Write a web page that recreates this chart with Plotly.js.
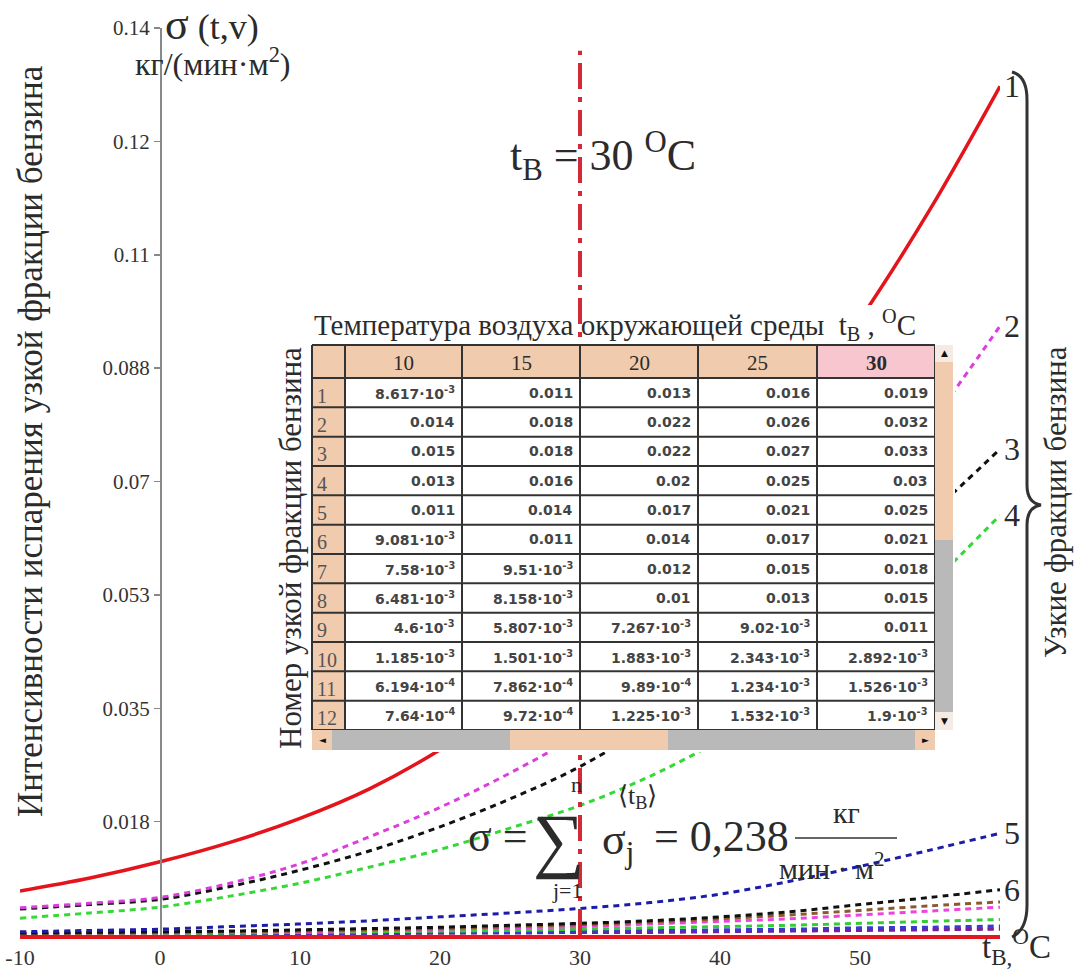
<!DOCTYPE html>
<html>
<head>
<meta charset="utf-8">
<script src="https://cdn.plot.ly/plotly-3.0.1.min.js"></script>
<style>html,body{margin:0;padding:0;background:#fff;}#chart{width:1075px;height:973px;}</style>
</head>
<body>
<div id="chart"></div>
<script>
// ---------- data ----------
const tempAxis = [-10, -5, 0, 5, 10, 15, 20, 25, 30, 35, 40, 45, 50, 55, 60];

const curve1  = [0.0068, 0.0088, 0.0113, 0.0143, 0.0180, 0.0226, 0.0286, 0.0360, 0.0450, 0.0550, 0.0670, 0.0800, 0.0950, 0.1120, 0.1310];
const curve2  = [0.0042, 0.0049, 0.0058, 0.0080, 0.0110, 0.0152, 0.0197, 0.0250, 0.0310, 0.0380, 0.0460, 0.0550, 0.0660, 0.0790, 0.0940];
const curve3  = [0.0040, 0.0047, 0.0055, 0.0075, 0.0100, 0.0130, 0.0167, 0.0210, 0.0260, 0.0325, 0.0400, 0.0480, 0.0560, 0.0650, 0.0750];
const curve4  = [0.0026, 0.0034, 0.0043, 0.0060, 0.0080, 0.0105, 0.0132, 0.0165, 0.0200, 0.0245, 0.0300, 0.0360, 0.0440, 0.0540, 0.0648];
const curve5  = [0.0005, 0.0007, 0.0009, 0.0013, 0.0017, 0.0022, 0.0028, 0.0034, 0.0041, 0.0050, 0.0063, 0.0083, 0.0106, 0.0131, 0.0157];
const curve6  = [0.0003, 0.0004, 0.0005, 0.0006, 0.0008, 0.0010, 0.0012, 0.0015, 0.0018, 0.0022, 0.0028, 0.0036, 0.0047, 0.0058, 0.0070];
const curve7  = [0.0002, 0.0003, 0.0004, 0.0005, 0.0006, 0.0008, 0.0010, 0.0013, 0.0016, 0.0020, 0.0025, 0.0031, 0.0038, 0.0045, 0.0051];
const curve8  = [0.0002, 0.0003, 0.0003, 0.0004, 0.0005, 0.0007, 0.0009, 0.0011, 0.0013, 0.0017, 0.0021, 0.0025, 0.0031, 0.0037, 0.0043];
const curve9  = [0.0001, 0.0002, 0.0002, 0.0003, 0.0004, 0.0005, 0.0006, 0.0007, 0.0009, 0.0011, 0.0013, 0.0015, 0.0018, 0.0021, 0.0024];
const curve10 = [0.0001, 0.0001, 0.0002, 0.0002, 0.0003, 0.0003, 0.0004, 0.0005, 0.0006, 0.0007, 0.0008, 0.0009, 0.0011, 0.0012, 0.0014];
const curve11 = [0.0001, 0.0001, 0.0001, 0.0001, 0.0002, 0.0002, 0.0003, 0.0003, 0.0004, 0.0004, 0.0005, 0.0006, 0.0007, 0.0008, 0.0009];
const curve12 = [0.0001, 0.0001, 0.0001, 0.0002, 0.0002, 0.0003, 0.0003, 0.0004, 0.0005, 0.0005, 0.0006, 0.0007, 0.0008, 0.0009, 0.0010];

const curveLabels = ['1', '2', '3', '4', '5', '6'];
const selectedTemp = 30;

const xTickVals = [-10, 0, 10, 20, 30, 40, 50];
const xTickText = ['-10', '0', '10', '20', '30', '40', '50'];
const yTickVals = [0.0175, 0.035, 0.0525, 0.07, 0.0875, 0.105, 0.1225, 0.14];
const yTickText = ['0.018', '0.035', '0.053', '0.07', '0.088', '0.11', '0.12', '0.14'];

// table of narrow-fraction evaporation rates
const tableTemps = ['10', '15', '20', '25', '30'];
const tableRows  = ['1','2','3','4','5','6','7','8','9','10','11','12'];
const tCol10 = [8.617e-3, 0.014, 0.015, 0.013, 0.011, 9.081e-3, 7.58e-3, 6.481e-3, 4.6e-3, 1.185e-3, 6.194e-4, 7.64e-4];
const tCol15 = [0.011, 0.018, 0.018, 0.016, 0.014, 0.011, 9.51e-3, 8.158e-3, 5.807e-3, 1.501e-3, 7.862e-4, 9.72e-4];
const tCol20 = [0.013, 0.022, 0.022, 0.02, 0.017, 0.014, 0.012, 0.01, 7.267e-3, 1.883e-3, 9.89e-4, 1.225e-3];
const tCol25 = [0.016, 0.026, 0.027, 0.025, 0.021, 0.017, 0.015, 0.013, 9.02e-3, 2.343e-3, 1.234e-3, 1.532e-3];
const tCol30 = [0.019, 0.032, 0.033, 0.03, 0.025, 0.021, 0.018, 0.015, 0.011, 2.892e-3, 1.526e-3, 1.9e-3];
const sigmaTotal = '0,238';

// ---------- helpers ----------
const SERIF = '"Liberation Serif", "Times New Roman", serif';
const SANS = '"DejaVu Sans", Verdana, sans-serif';
const TXT = '#2b2b2b';
const M = {l: 20, r: 75, t: 28, b: 38};
const W = 1075, H = 973;
const PW = W - M.l - M.r, PH = H - M.t - M.b;
const P = x => (x - M.l) / PW;          // pixel -> paper x
const Q = y => (H - M.b - y) / PH;      // pixel -> paper y

function fmt(v) {
  if (v >= 0.01) return String(v);
  const e = Math.floor(Math.log10(v));
  const m = parseFloat((v / Math.pow(10, e)).toPrecision(4));
  return m + '·10<sup>' + e + '</sup>';
}

const curves = [curve1, curve2, curve3, curve4, curve5, curve6, curve7, curve8, curve9, curve10, curve11, curve12];
const colors = ['#e3141c', '#dd3ddd', '#111111', '#35d935', '#1c1ca8', '#111111', '#8b5a2b', '#ee44dd', '#33cc33', '#3a3ad0', '#7a1f9a', '#b02a2a'];

const traces = curves.map((c, i) => ({
  type: 'scatter', mode: 'lines', x: tempAxis, y: c,
  line: i === 0 ? {color: colors[i], width: 3.5, shape: 'spline', smoothing: 1}
                : {color: colors[i], width: 3, dash: '6px,5px', shape: 'spline', smoothing: 1},
  hoverinfo: 'skip'
})).reverse();

function ann(x, y, text, size, opts) {
  return Object.assign({xref: 'paper', yref: 'paper', x: P(x), y: Q(y), text: text, showarrow: false,
    xanchor: 'left', yanchor: 'middle', font: {family: SERIF, size: size, color: TXT}}, opts || {});
}
function rect(x0, y0, x1, y1, color) {
  return {type: 'rect', xref: 'paper', yref: 'paper', x0: P(x0), x1: P(x1), y0: Q(y1), y1: Q(y0),
    fillcolor: color, line: {width: 0}, layer: 'above'};
}
function hline(x0, x1, y, color, w) {
  return {type: 'line', xref: 'paper', yref: 'paper', x0: P(x0), x1: P(x1), y0: Q(y), y1: Q(y),
    layer: 'above', line: {color: color, width: w}};
}
function vline(x, y0, y1, color, w) {
  return {type: 'line', xref: 'paper', yref: 'paper', x0: P(x), x1: P(x), y0: Q(y0), y1: Q(y1),
    layer: 'above', line: {color: color, width: w}};
}

const annotations = [
  ann(163, 24, '<span style="font-size:44px">σ</span> (t,v)', 36),
  ann(133, 62, 'кг/(мин·м<sup>2</sup>)', 32),
  ann(508, 156, 't<sub>В</sub> = 30 <sup>O</sup>C', 44),
  ann(980, 946, 't<sub>В,</sub><sup>O</sup>C', 33),
  ann(312, 325, 'Температура воздуха окружающей среды  t<sub>В</sub> , <sup>O</sup>C', 29),
  ann(290, 548, 'Номер узкой фракции бензина', 31, {xanchor: 'center', textangle: -90}),
  ann(30, 441, 'Интенсивности испарения узкой фракции бензина', 35, {xanchor: 'center', textangle: -90}),
  ann(1055, 502, 'Узкие фракции бензина', 31, {xanchor: 'center', textangle: -90}),
  // formula
  ann(466, 836, 'σ =', 44),
  ann(531, 840, '∑', 72),
  ann(576, 784, 'n', 22, {xanchor: 'center'}),
  ann(567, 890, 'j=1', 22, {xanchor: 'center'}),
  ann(600, 842, 'σ<sub>j</sub>', 44),
  ann(616, 797, '⟨t<sub>В</sub>⟩', 26),
  ann(652, 836, '= ' + sigmaTotal, 44),
  ann(846, 812, 'кг', 30, {xanchor: 'center'}),
  ann(832, 866, 'мин · м<sup>2</sup>', 30, {xanchor: 'center'}),
  // scrollbar arrows
  ann(944, 353, '▲', 9, {xanchor: 'center', font: {size: 9, color: '#111', family: SANS}}),
  ann(944, 721, '▼', 9, {xanchor: 'center', font: {size: 9, color: '#111', family: SANS}}),
  ann(322, 740, '◄', 9, {xanchor: 'center', font: {size: 9, color: '#111', family: SANS}}),
  ann(925, 740, '►', 9, {xanchor: 'center', font: {size: 9, color: '#111', family: SANS}})
];

// curve number labels at the right ends of the curves
curveLabels.forEach((lab, i) => {
  annotations.push({xref: 'x', yref: 'y', x: tempAxis[tempAxis.length - 1], y: curves[i][curves[i].length - 1],
    text: lab, showarrow: false, xanchor: 'left', yanchor: 'middle', xshift: 2,
    font: {family: SERIF, size: 32, color: TXT}});
});

function pt(x, y) { return P(x).toFixed(5) + ',' + Q(y).toFixed(5); }
const bracePath = 'M' + pt(1012, 72) + ' Q' + pt(1027, 76) + ' ' + pt(1027, 100) +
  ' L' + pt(1027, 485) + ' Q' + pt(1027, 503) + ' ' + pt(1041, 505) +
  ' Q' + pt(1027, 507) + ' ' + pt(1027, 525) + ' L' + pt(1027, 905) +
  ' Q' + pt(1027, 930) + ' ' + pt(1012, 937);

const TAN = '#f0cbad', PINK = '#f8c6cf', GRID = '#333333';
const shapes = [
  rect(272, 305, 955, 752, '#ffffff'),
  {type: 'line', xref: 'x', yref: 'y', x0: selectedTemp, x1: selectedTemp, y0: 0, y1: 0.1365, layer: 'above',
   line: {color: '#d42a35', width: 4, dash: '26px,8px,5px,8px'}}
];

// ---------- table (drawn with shapes + annotations) ----------
const colEdges = [312, 345, 462, 580, 698, 817, 935];
const headTop = 345, headBot = 378, rowH = (730 - 378) / tableRows.length;
const rowEdge = k => headBot + k * rowH;
const tableCols = [tCol10, tCol15, tCol20, tCol25, tCol30];

// fills
shapes.push(rect(colEdges[0], headTop, colEdges[6], rowEdge(tableRows.length), '#ffffff'));
shapes.push(rect(colEdges[0], headTop, colEdges[6], headBot, TAN));
shapes.push(rect(colEdges[0], headBot, colEdges[1], rowEdge(tableRows.length), TAN));
tableTemps.forEach((t, j) => {
  if (t === String(selectedTemp)) shapes.push(rect(colEdges[j + 1], headTop, colEdges[j + 2], headBot, PINK));
});
// grid
for (let k = 0; k <= tableRows.length; k++) shapes.push(hline(colEdges[0], colEdges[6], rowEdge(k), GRID, 2));
shapes.push(hline(colEdges[0], colEdges[6], headTop, GRID, 2));
colEdges.forEach(x => shapes.push(vline(x, headTop, rowEdge(tableRows.length), GRID, 2)));

// header texts
tableTemps.forEach((t, j) => {
  const sel = t === String(selectedTemp);
  annotations.push(ann((colEdges[j + 1] + colEdges[j + 2]) / 2, (headTop + headBot) / 2 + 1,
    sel ? '<b>' + t + '</b>' : t, 21, {xanchor: 'center'}));
});
// row numbers and values
tableRows.forEach((r, k) => {
  const yc = (rowEdge(k) + rowEdge(k + 1)) / 2;
  annotations.push(ann(colEdges[0] + 3, yc + 3, r, 20, {font: {family: SERIF, size: 20, color: '#555'}}));
  tableCols.forEach((col, j) => {
    annotations.push(ann(colEdges[j + 2] - 5, yc, fmt(col[k]), 14,
      {xanchor: 'right', font: {family: SANS, size: 14, weight: 'bold', color: '#444'}}));
  });
});

// scrollbars
shapes.push(
  rect(935, 345, 953, 730, '#b9b9b9'),
  rect(935, 362, 953, 540, TAN),
  rect(935, 345, 953, 362, '#f6ebe2'),
  rect(935, 712, 953, 730, '#f6ebe2'),
  rect(312, 730, 935, 750, '#b9b9b9'),
  rect(510, 730, 668, 750, TAN),
  rect(312, 730, 332, 750, TAN),
  rect(915, 730, 935, 750, TAN),
  // fraction bar
  hline(795, 897, 838, '#333', 1.5),
  // brace
  {type: 'path', xref: 'paper', yref: 'paper', path: bracePath, layer: 'above', line: {color: '#333', width: 3}}
);

const layout = {
  width: W, height: H, margin: M,
  paper_bgcolor: '#fff', plot_bgcolor: '#fff', showlegend: false,
  xaxis: {range: [-10, 60], tickvals: xTickVals, ticktext: xTickText, showgrid: false, zeroline: false,
    showline: true, linecolor: '#e3171f', linewidth: 4, ticks: '',
    tickfont: {family: SERIF, size: 22, color: '#333'}},
  yaxis: {range: [0, 0.14], anchor: 'free', position: 10 / 70, tickvals: yTickVals, ticktext: yTickText,
    showgrid: false, zeroline: false, showline: true, linecolor: '#888', linewidth: 1.5,
    ticks: 'outside', ticklen: 6, tickcolor: '#888', tickwidth: 1.5,
    tickfont: {family: SERIF, size: 21, color: '#333'}},
  annotations: annotations,
  shapes: shapes
};

Plotly.newPlot('chart', traces, layout, {displayModeBar: false, staticPlot: true});
</script>
</body>
</html>
